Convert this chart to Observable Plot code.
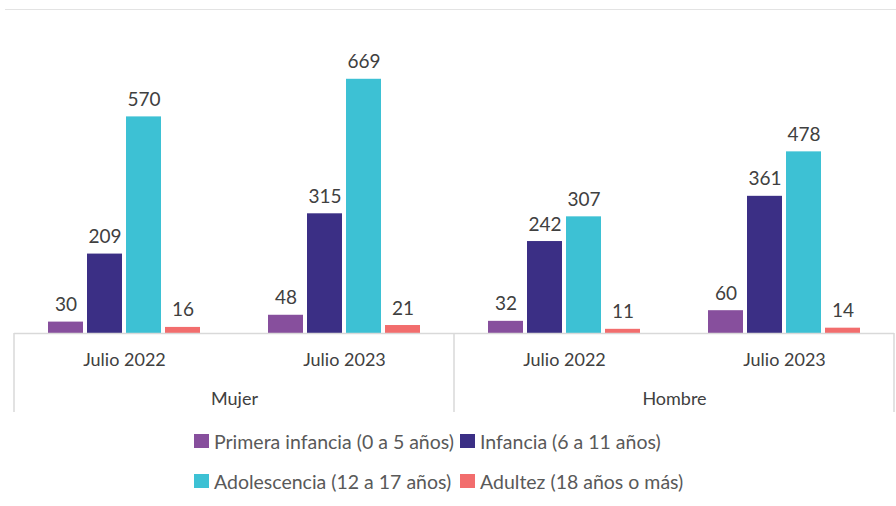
<!DOCTYPE html>
<html>
<head>
<meta charset="utf-8">
<script src="https://cdn.jsdelivr.net/npm/d3@7"></script>
<script src="https://cdn.jsdelivr.net/npm/@observablehq/plot@0.6"></script>
<style>
  html, body { margin: 0; padding: 0; background: #fff; }
  #wrap { position: relative; width: 896px; height: 506px; font-family: Lato, "Open Sans", sans-serif; }
  #topline { position: absolute; left: 5px; right: 0; top: 9px; height: 0; border-top: 1.5px solid #e3e3e3; }
  #legend { position: absolute; left: 194px; top: 421px; display: grid; grid-template-columns: 266px auto; grid-auto-rows: 40px; color: #595959; font-size: 19.5px; }
  .item { display: flex; align-items: center; }
  .sw { width: 15px; height: 14px; margin-right: 5px; flex: none; }
</style>
</head>
<body>
<div id="wrap">
  <div id="chart"></div>
  <div id="topline"></div>
  <div id="legend"></div>
</div>
<script>
const sexes = ["Mujer", "Hombre"];
const years = ["Julio 2022", "Julio 2023"];
const ages = ["Primera infancia (0 a 5 años)", "Infancia (6 a 11 años)", "Adolescencia (12 a 17 años)", "Adultez (18 años o más)"];
// order: Mujer 2022, Mujer 2023, Hombre 2022, Hombre 2023
const primeraInfancia = [30, 48, 32, 60];
const infancia = [209, 315, 242, 361];
const adolescencia = [570, 669, 307, 478];
const adultez = [16, 21, 11, 14];
const colors = ["#874f9d", "#3b2f85", "#3dc1d4", "#f26d6d"];

const series = [primeraInfancia, infancia, adolescencia, adultez];
const groups = [];
sexes.forEach(s => years.forEach(y => groups.push({key: s + "|" + y, sex: s, year: y})));
const keys = groups.map(g => g.key);
const rows = [];
groups.forEach((g, i) => ages.forEach((a, j) => rows.push({key: g.key, age: a, value: series[j][i]})));

const plot = Plot.plot({
  width: 896,
  height: 420,
  marginLeft: 14,
  marginRight: 2,
  marginTop: 67,
  marginBottom: 87,
  style: {fontFamily: "Lato, 'Open Sans', sans-serif", fontSize: "18px", background: "transparent"},
  fx: {domain: keys, padding: 0, axis: null},
  x: {domain: ages, axis: null, paddingInner: 0.09, paddingOuter: 0.83},
  y: {domain: [0, 700], axis: null},
  color: {domain: ages, range: colors},
  marks: [
    Plot.barY(rows, {fx: "key", x: "age", y: "value", fill: "age"}),
    Plot.ruleY([0], {stroke: "#d9d9d9", strokeWidth: 1.5}),
    Plot.text(rows, {fx: "key", x: "age", y: "value", text: d => String(d.value), dy: -11, lineAnchor: "bottom", fill: "#404040", fontSize: 19}),
    Plot.text(groups, {fx: "key", text: "year", frameAnchor: "bottom", dy: 32, fill: "#404040", fontSize: 18}),
    Plot.text(groups.filter(g => g.year === years[0]), {fx: "key", text: "sex", frameAnchor: "bottom-right", textAnchor: "middle", dy: 71, fill: "#404040", fontSize: 18})
  ]
});
document.getElementById("chart").appendChild(plot);

// group separators in the bottom area, positioned from the fx scale
const fx = plot.scale("fx");
const yBase = 420 - 87;
const seps = [fx.apply(keys[0]), fx.apply(keys[2]), fx.apply(keys[3]) + fx.bandwidth];
const svg = d3.select(plot);
seps.forEach(x => {
  svg.append("line").attr("x1", x).attr("x2", x).attr("y1", yBase).attr("y2", yBase + 79)
    .attr("stroke", "#d9d9d9").attr("stroke-width", 1.5);
});

const legend = document.getElementById("legend");
[0, 1, 2, 3].forEach(i => {
  const it = document.createElement("div");
  it.className = "item";
  const sw = document.createElement("span");
  sw.className = "sw";
  sw.style.background = colors[i];
  const t = document.createElement("span");
  t.textContent = ages[i];
  it.appendChild(sw); it.appendChild(t);
  legend.appendChild(it);
});
</script>
</body>
</html>
